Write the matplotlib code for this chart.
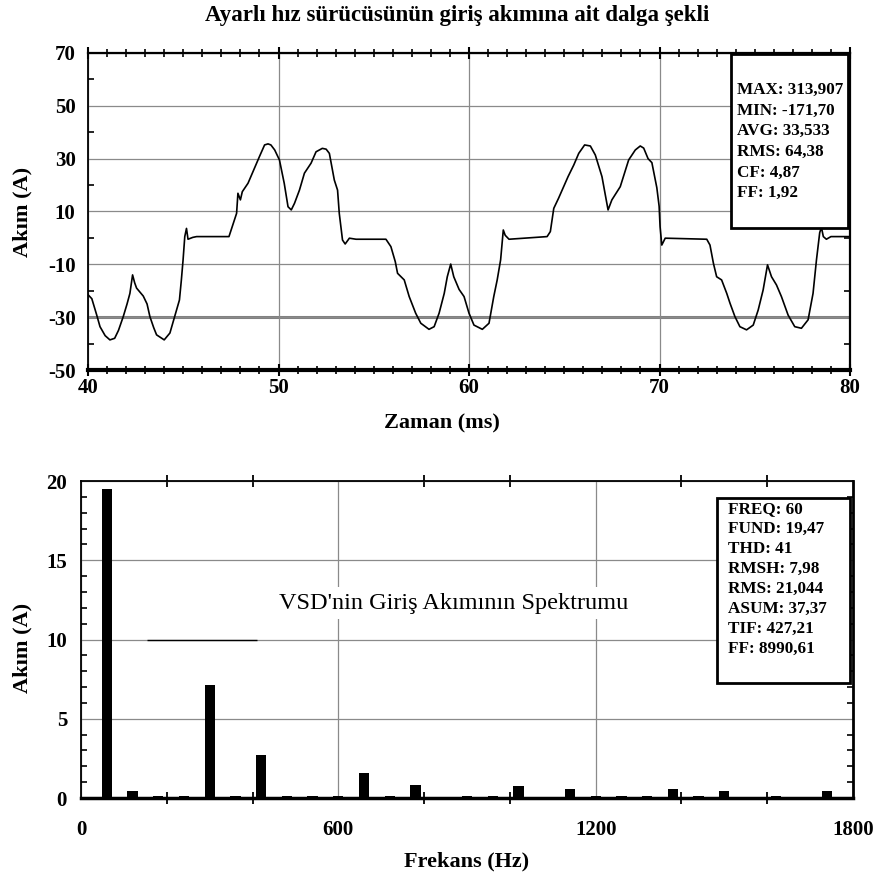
import matplotlib
matplotlib.use("Agg")
import matplotlib.pyplot as plt
from matplotlib.patches import Rectangle
from matplotlib.ticker import MultipleLocator, FixedLocator

plt.rcParams['font.family'] = ['Liberation Serif', 'DejaVu Serif']
plt.rcParams['axes.unicode_minus'] = False

# ---------------- data ----------------
title_text = "Ayarlı hız sürücüsünün giriş akımına ait dalga şekli"

time_ms = [40.0, 40.2, 40.45, 40.63, 40.9, 41.15, 41.4, 41.6, 41.85, 42.05, 42.2, 42.34,
           42.45, 42.55, 42.9, 43.1, 43.25, 43.45, 43.6, 44.0, 44.3, 44.55, 44.8, 44.9,
           44.99, 45.08, 45.17, 45.25, 45.5, 45.7, 47.4, 47.6, 47.8, 47.87, 48.0, 48.1,
           48.4, 48.66, 49.0, 49.27, 49.45, 49.6, 49.8, 50.05, 50.3, 50.5, 50.67, 50.84,
           51.1, 51.36, 51.71, 51.97, 52.3, 52.5, 52.67, 52.8, 52.93, 53.1, 53.19, 53.36,
           53.5, 53.72, 54.07, 55.64, 55.9, 56.13, 56.25, 56.6, 56.86, 57.2, 57.47, 57.9,
           58.17, 58.43, 58.7, 58.86, 59.04, 59.2, 59.48, 59.74, 60.0, 60.26, 60.7, 61.05,
           61.3, 61.48, 61.66, 61.8, 61.9, 62.1, 64.1, 64.27, 64.45, 64.7, 64.97, 65.2,
           65.5, 65.76, 66.07, 66.37, 66.63, 66.98, 67.3, 67.5, 67.94, 68.38, 68.73, 68.99,
           69.17, 69.4, 69.6, 69.86, 69.98, 70.03, 70.12, 70.3, 72.48, 72.65, 72.83, 73.0,
           73.26, 73.53, 73.7, 73.96, 74.22, 74.57, 74.92, 75.18, 75.44, 75.67, 75.88, 76.14,
           76.4, 76.75, 77.1, 77.45, 77.8, 78.06, 78.24, 78.41, 78.5, 78.6, 78.76, 79.0, 80.0]

current_a = [-21.5, -23, -29, -33.6, -37, -38.6, -38, -35, -29.8, -25, -21, -14,
             -17, -19, -22, -25, -29.8, -34, -36.7, -38.6, -36, -29.8, -23.5, -16,
             -8.4, 0.5, 3.6, -0.5, 0.2, 0.5, 0.5, 4.9, 9.3, 16.9, 14.4, 17.5,
             20.7, 25.1, 30.8, 35.2, 35.6, 35.2, 33.3, 29.5, 20.7, 11.8, 10.6, 13.1,
             18.1, 24.5, 28.3, 32.6, 33.9, 33.6, 32.0, 27, 21.9, 18.1, 9.3, -0.8,
             -2.3, -0.1, -0.5, -0.5, -3.3, -9, -13.4, -15.9, -22.2, -28.5, -32.3, -34.6,
             -33.6, -28.5, -21, -14.7, -9.9, -14.7, -19.5, -22.2, -28.5, -33, -34.6, -32.3,
             -22.2, -15.9, -8.3, 3, 1, -0.5, 0.5, 2.4, 11.2, 15, 19.4, 23.2,
             27.6, 32.0, 35.2, 34.8, 31.4, 23.2, 10.6, 14.4, 19.4, 29.5, 33.3, 34.8,
             34, 30, 28.5, 19, 12, 4.3, -2.7, -0.1, -0.5, -2.7, -9.6, -14.7,
             -15.9, -21, -24.7, -29.8, -33.6, -34.8, -33, -27.3, -19.7, -10.2, -14.7, -17.8,
             -22.2, -29.2, -33.6, -34.2, -31, -21, -8.3, 2, 4, 0.5, -0.5, 0.5, 0.5]

wave_y_ticks = [-50, -30, -10, 10, 30, 50, 70]
wave_y_minor = [-40, -20, 0, 20, 40, 60]

wave_stats_labels = ["MAX", "MIN", "AVG", "RMS", "CF", "FF"]
wave_stats_values = ["313,907", "-171,70", "33,533", "64,38", "4,87", "1,92"]

freq_hz = [60, 120, 180, 240, 300, 360, 420, 480, 540, 600, 660, 720, 780,
           900, 960, 1020, 1140, 1200, 1260, 1320, 1380, 1440, 1500, 1620, 1740]
amp_a = [19.47, 0.45, 0.12, 0.12, 7.1, 0.12, 2.7, 0.12, 0.12, 0.12, 1.6, 0.12, 0.85,
         0.15, 0.12, 0.75, 0.55, 0.12, 0.12, 0.12, 0.55, 0.12, 0.45, 0.12, 0.45]
spec_x_ticks = [0, 600, 1200, 1800]
spec_x_minor = [200, 400, 800, 1000, 1400, 1600]

spec_stats_labels = ["FREQ", "FUND", "THD", "RMSH", "RMS", "ASUM", "TIF", "FF"]
spec_stats_values = ["60", "19,47", "41", "7,98", "21,044", "37,37", "427,21", "8990,61"]

spectrum_title = "VSD'nin Giriş Akımının Spektrumu"

# ---------------- figure ----------------
W = 880.0
fig = plt.figure(figsize=(8.8, 8.8), dpi=100)
fig.patch.set_facecolor('white')

grid_col = '#8a8a8a'
TICK_FS = 15
LAB_FS = 16
BOX_FS = 12.3

# ----- top: waveform -----
ax1 = fig.add_axes([88 / W, 1 - 370 / W, 762 / W, 317 / W])
ax1.set_xlim(40, 80)
ax1.set_ylim(-50, 70)
ax1.xaxis.set_major_locator(MultipleLocator(10))
ax1.xaxis.set_minor_locator(MultipleLocator(1))
ax1.yaxis.set_major_locator(FixedLocator(wave_y_ticks))
ax1.yaxis.set_minor_locator(FixedLocator(wave_y_minor))
ax1.grid(True, which='major', color=grid_col, lw=0.9)
ax1.axhline(-30, color='#808080', lw=2.2, zorder=1.5)
ax1.plot(time_ms, current_a, color='black', lw=1.2, zorder=3)

ax1.tick_params(axis='x', which='both', direction='inout', top=True, bottom=True,
                labelsize=TICK_FS, pad=2)
ax1.tick_params(axis='x', which='major', length=8, width=1.5)
ax1.tick_params(axis='x', which='minor', length=6, width=1.2)
ax1.tick_params(axis='y', which='both', direction='in', left=True, right=True,
                labelsize=TICK_FS, pad=9)
ax1.tick_params(axis='y', which='major', length=0)
ax1.tick_params(axis='y', which='minor', length=4, width=1.2)
for lab in ax1.get_xticklabels() + ax1.get_yticklabels():
    lab.set_fontweight('bold')

ax1.spines['bottom'].set_linewidth(3)
ax1.spines['top'].set_linewidth(1.6)
ax1.spines['left'].set_linewidth(1.3)
ax1.spines['right'].set_linewidth(1.6)

# stats box
bx0, by0 = 0.844, 0.448
ax1.add_patch(Rectangle((bx0, by0), 1 - bx0 - 0.002, 1 - by0 - 0.002, transform=ax1.transAxes,
                        facecolor='white', edgecolor='black', lw=2.0, zorder=5))
for i, (l, v) in enumerate(zip(wave_stats_labels, wave_stats_values)):
    ax1.text(0.852, 0.883 - i * 0.065, f"{l}: {v}", transform=ax1.transAxes,
             ha='left', va='center', fontsize=BOX_FS, fontweight='bold', zorder=6)

fig.text(457 / W, 1 - 16 / W, title_text, ha='center', va='center',
         fontsize=16.5, fontweight='bold')
fig.text(442 / W, 1 - 423 / W, "Zaman (ms)", ha='center', va='center',
         fontsize=LAB_FS, fontweight='bold')
fig.text(22 / W, 1 - 212 / W, "Akım (A)", ha='center', va='center', rotation=90,
         fontsize=LAB_FS, fontweight='bold')

# ----- bottom: spectrum -----
ax2 = fig.add_axes([81 / W, 1 - 798 / W, 772 / W, 317 / W])
ax2.set_xlim(0, 1800)
ax2.set_ylim(0, 20)
ax2.xaxis.set_major_locator(FixedLocator(spec_x_ticks))
ax2.xaxis.set_minor_locator(FixedLocator(spec_x_minor))
ax2.yaxis.set_major_locator(MultipleLocator(5))
ax2.yaxis.set_minor_locator(MultipleLocator(1))
ax2.grid(True, which='major', color=grid_col, lw=0.9)
ax2.hlines(10, 155, 410, color='black', lw=1.0, zorder=1.6)
ax2.bar(freq_hz, amp_a, width=24, color='black', zorder=3)

ax2.tick_params(axis='x', which='major', length=0, labelsize=TICK_FS, pad=16)
ax2.tick_params(axis='x', which='minor', direction='inout', top=True, bottom=True,
                length=8, width=1.3)
ax2.tick_params(axis='y', which='both', direction='in', left=True, right=True,
                labelsize=TICK_FS, pad=10)
ax2.tick_params(axis='y', which='major', length=0)
ax2.tick_params(axis='y', which='minor', length=4, width=1.2)
for lab in ax2.get_xticklabels() + ax2.get_yticklabels():
    lab.set_fontweight('bold')

ax2.spines['bottom'].set_linewidth(2.5)
ax2.spines['top'].set_linewidth(1.3)
ax2.spines['left'].set_linewidth(1.3)
ax2.spines['right'].set_linewidth(2.0)

ax2.text(0.483, 0.615, spectrum_title, transform=ax2.transAxes, ha='center', va='center',
         fontsize=17.5, zorder=4,
         bbox=dict(facecolor='white', edgecolor='none', pad=4))

sx0, sy0, sx1, sy1 = 0.824, 0.363, 0.996, 0.946
ax2.add_patch(Rectangle((sx0, sy0), sx1 - sx0, sy1 - sy0, transform=ax2.transAxes,
                        facecolor='white', edgecolor='black', lw=2.0, zorder=5))
for i, (l, v) in enumerate(zip(spec_stats_labels, spec_stats_values)):
    ax2.text(0.838, 0.912 - i * 0.0633, f"{l}: {v}", transform=ax2.transAxes,
             ha='left', va='center', fontsize=BOX_FS, fontweight='bold', zorder=6)

fig.text(467 / W, 1 - 861 / W, "Frekans (Hz)", ha='center', va='center',
         fontsize=LAB_FS, fontweight='bold')
fig.text(22 / W, 1 - 648 / W, "Akım (A)", ha='center', va='center', rotation=90,
         fontsize=LAB_FS, fontweight='bold')

fig.savefig("out.png", dpi=100, facecolor='white')
